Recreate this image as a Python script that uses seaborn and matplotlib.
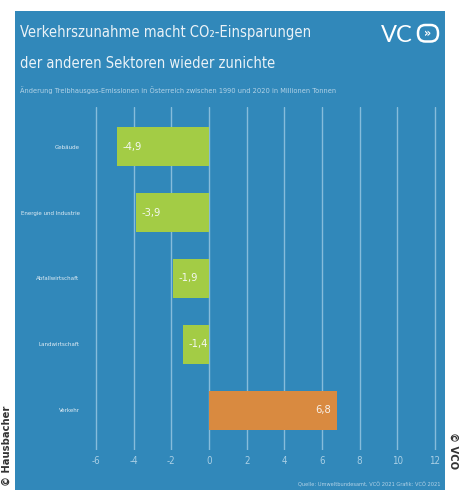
import matplotlib
matplotlib.use("Agg")
import matplotlib.pyplot as plt
from matplotlib import font_manager as fm
from matplotlib.patches import Rectangle, FancyBboxPatch
import seaborn as sns
import pandas as pd

# ---- data ----
sectors = ["Gebäude", "Energie und Industrie", "Abfallwirtschaft", "Landwirtschaft", "Verkehr"]
values = [-4.9, -3.9, -1.9, -1.4, 6.8]
bar_colors = ["#a3cc45", "#a3cc45", "#a3cc45", "#a3cc45", "#d98a40"]
xticks = [-6, -4, -2, 0, 2, 4, 6, 8, 10, 12]
title_lines = ["Verkehrszunahme macht CO\u2082-Einsparungen", "der anderen Sektoren wieder zunichte"]
subtitle = "Änderung Treibhausgas-Emissionen in Österreich zwischen 1990 und 2020 in Millionen Tonnen"
source = "Quelle: Umweltbundesamt, VCÖ 2021 Grafik: VCÖ 2021"

# ---- fonts ----
sns.set_theme(style="white")
ttf = fm.fontManager.ttflist
names = {f.name for f in ttf}
stretch = "normal"
if "Liberation Sans Narrow" in names:
    cond = "Liberation Sans Narrow"
elif any(f.name == "DejaVu Sans" and f.stretch in ("condensed", "semi-condensed") for f in ttf):
    cond = "DejaVu Sans"
    stretch = "condensed"
else:
    cond = "Roboto"
plt.rcParams["font.family"] = [cond, "DejaVu Sans"]
plt.rcParams["font.stretch"] = stretch

W, H = 460, 490
fig = plt.figure(figsize=(W / 100, H / 100), dpi=100, facecolor="white")

def fx(px):
    return px / W

def fy(py):
    return 1 - py / H

BLUE = "#3188ba"
fig.patches.append(Rectangle((fx(15), 0), fx(445) - fx(15), fy(11), transform=fig.transFigure,
                             facecolor=BLUE, edgecolor="none", zorder=-5))

# ---- axes ----
x0_px, unit = 209.0, 18.83
xl = (-6.25, 12.25)
left_px = x0_px + xl[0] * unit
right_px = x0_px + xl[1] * unit
top_px, bot_px = 107, 450
ax = fig.add_axes([fx(left_px), fy(bot_px), fx(right_px) - fx(left_px), fy(top_px) - fy(bot_px)])
ax.set_facecolor("none")
ax.set_zorder(2)

df = pd.DataFrame({"sector": sectors, "value": values})
sns.barplot(data=df, x="value", y="sector", hue="sector", palette=bar_colors, orient="h",
            width=0.6, legend=False, saturation=1, ax=ax, zorder=3, linewidth=0)
ax.set_xlim(*xl)
ax.set_ylim(len(sectors) - 0.4, -0.6)
ax.set_xticks(xticks)
ax.set_xticklabels([str(t) for t in xticks])
ax.grid(axis="x", color="#86bcdb", linewidth=1.0, zorder=1)
ax.grid(axis="y", visible=False)
ax.set_axisbelow(True)
for s in ax.spines.values():
    s.set_visible(False)
ax.set_xlabel("")
ax.set_ylabel("")
ax.tick_params(axis="x", length=0, pad=4.5, labelsize=7, labelcolor="#a9cfe5")
ax.tick_params(axis="y", length=0, pad=8.5, labelsize=6, labelcolor="#e0ecf4")

# value labels
for i, v in enumerate(values):
    lab = f"{v:.1f}".replace(".", ",")
    if v < 0:
        ax.annotate(lab, (v, i), xytext=(4, 0), textcoords="offset points", ha="left", va="center",
                    color="#f4f8f0", fontsize=8, zorder=5)
    else:
        ax.annotate(lab, (v, i), xytext=(-4, 0), textcoords="offset points", ha="right", va="center",
                    color="#f8f1ea", fontsize=8, zorder=5)

# ---- header ----
t1 = fig.text(fx(20), fy(37.5), title_lines[0], ha="left", va="baseline", color="#eaf2f7", fontsize=15)
t2 = fig.text(fx(20), fy(68), title_lines[1], ha="left", va="baseline", color="#eaf2f7", fontsize=15)
st = fig.text(fx(20), fy(93), subtitle, ha="left", va="baseline", color="#b3d3e7", fontsize=6)
src = fig.text(fx(441), fy(486), source, ha="right", va="baseline", color="#b3d3e7", fontsize=5)

renderer = fig.canvas.get_renderer()

def fit(t, width_px):
    w = t.get_window_extent(renderer).width
    t.set_fontsize(t.get_fontsize() * width_px / w)

fit(t1, 290)
t2.set_fontsize(t1.get_fontsize())
fit(st, 317)
fit(src, 145)

# fit category labels
fig.canvas.draw()
labs = ax.get_yticklabels()
idx = sectors.index("Energie und Industrie")
w = labs[idx].get_window_extent(renderer).width
fs = 6 * 60 / w
ax.tick_params(axis="y", labelsize=fs)

# logo
fig.text(fx(381), fy(42), "VC", ha="left", va="baseline", color="white", fontsize=17,
         family=["Lato", "DejaVu Sans"], fontweight="normal")
fig.patches.append(FancyBboxPatch((fx(418), fy(41.5)), fx(438) - fx(418), fy(25) - fy(41.5),
                                  boxstyle="round,pad=0,rounding_size=0.016", transform=fig.transFigure,
                                  facecolor="none", edgecolor="white", linewidth=1.8, zorder=3))
fig.text(fx(428), fy(33.5), "»", ha="center", va="center", color="white", fontsize=9,
         fontweight="bold", family=["DejaVu Sans"])

# side credits
fig.text(fx(7), fy(486), "© Hausbacher", rotation=90, ha="center", va="bottom", color="#333333",
         fontsize=8, fontweight="bold")
fig.text(fx(453), fy(432), "© VCÖ", rotation=270, ha="center", va="top", color="#333333",
         fontsize=8, fontweight="bold")

fig.savefig("out.png", dpi=100, facecolor="white")
